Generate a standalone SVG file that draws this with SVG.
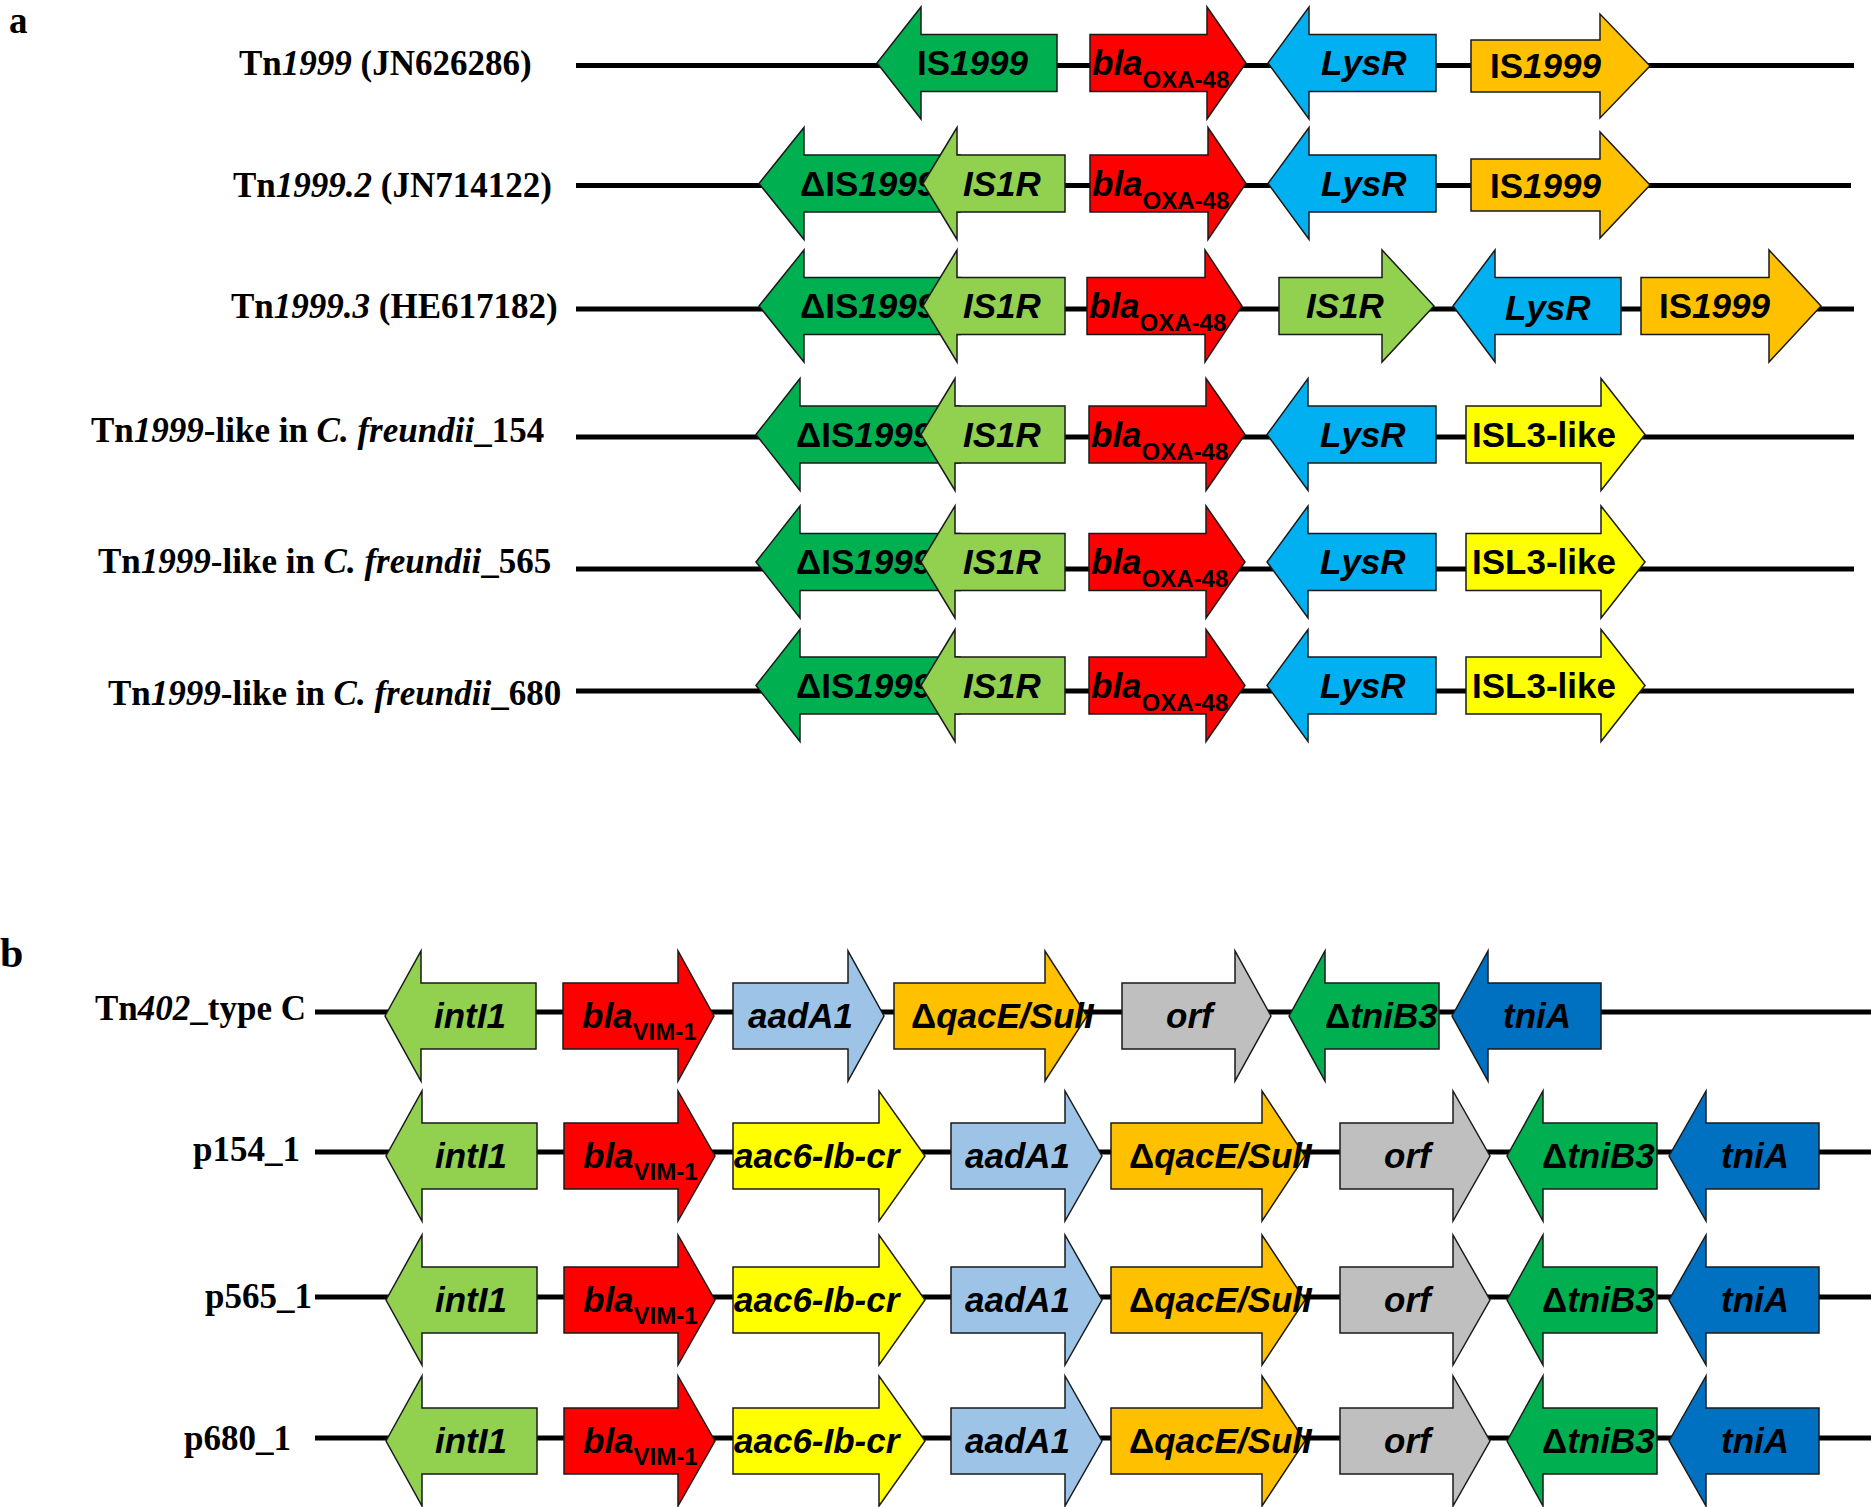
<svg xmlns="http://www.w3.org/2000/svg" width="1871" height="1507" viewBox="0 0 1871 1507">
<style>
.ln{stroke:#000;stroke-width:5;fill:none}
.g{stroke:#1a1a1a;stroke-width:1.5;stroke-linejoin:miter}
.dg{fill:#00B050}.lg{fill:#92D050}.rd{fill:#FF0000}.sb{fill:#00B0F0}.or{fill:#FFC000}.ye{fill:#FFFF00}.lb{fill:#9DC3E6}.gy{fill:#BFBFBF}.db{fill:#0070C0}
.t{font-family:"Liberation Sans",Arial,sans-serif;font-weight:bold;font-size:35px;fill:#000}
.i{font-style:italic}
.sub{font-size:24px;font-style:normal}
.lab{font-family:"Liberation Serif","Times New Roman",serif;font-weight:bold;font-size:35px;fill:#000}
.pl{font-family:"Liberation Serif","Times New Roman",serif;font-weight:bold;font-size:42px;fill:#000}
</style>
<rect width="1871" height="1507" fill="#fff"/>
<text class="pl" x="9" y="33" style="font-size:37px">a</text>
<text class="pl" x="0" y="967">b</text>

<g id="labels">
<text class="lab" x="239" y="75">Tn<tspan class="i">1999</tspan> (JN626286)</text>
<text class="lab" x="233" y="197">Tn<tspan class="i">1999.2</tspan> (JN714122)</text>
<text class="lab" x="231" y="318">Tn<tspan class="i">1999.3</tspan> (HE617182)</text>
<text class="lab" x="91" y="442">Tn<tspan class="i">1999</tspan>-like in <tspan class="i">C. freundii</tspan>_154</text>
<text class="lab" x="98" y="573">Tn<tspan class="i">1999</tspan>-like in <tspan class="i">C. freundii</tspan>_565</text>
<text class="lab" x="108" y="705">Tn<tspan class="i">1999</tspan>-like in <tspan class="i">C. freundii</tspan>_680</text>
<text class="lab" x="95" y="1020">Tn<tspan class="i">402</tspan>_type C</text>
<text class="lab" x="193" y="1161">p154_1</text>
<text class="lab" x="205" y="1308">p565_1</text>
<text class="lab" x="184" y="1450">p680_1</text>
</g>

<g id="connectors">
<line class="ln" x1="576" y1="65.5" x2="1854" y2="65.5"/>
<line class="ln" x1="576" y1="185.5" x2="1851" y2="185.5"/>
<line class="ln" x1="576" y1="309" x2="1854" y2="309"/>
<line class="ln" x1="576" y1="437" x2="1854" y2="437"/>
<line class="ln" x1="576" y1="569" x2="1854" y2="569"/>
<line class="ln" x1="576" y1="691" x2="1854" y2="691"/>
<line class="ln" x1="315" y1="1012" x2="1871" y2="1012"/>
<line class="ln" x1="315" y1="1152" x2="1871" y2="1152"/>
<line class="ln" x1="315" y1="1297" x2="1871" y2="1297"/>
<line class="ln" x1="315" y1="1438" x2="1871" y2="1438"/>
</g>

<!-- Row a1 -->
<g id="a1" transform="translate(0,63)">
<g id="a1-IS1999L"><polygon class="g dg" points="877,0 921,-56 921,-28.5 1057,-28.5 1057,28.5 921,28.5 921,56"/><text class="t" x="917" y="12">IS<tspan class="i">1999</tspan></text></g>
<g id="a1-bla"><polygon class="g rd" points="1090,-28.5 1207,-28.5 1207,-56 1246,0 1207,56 1207,28.5 1090,28.5"/><text class="t" x="1092" y="12"><tspan class="i">bla</tspan><tspan class="sub" dy="13">OXA-48</tspan></text></g>
<g id="a1-LysR"><polygon class="g sb" points="1268,0 1309,-56 1309,-28.5 1436,-28.5 1436,28.5 1309,28.5 1309,56"/><text class="t i" x="1321" y="12">LysR</text></g>
<g id="a1-IS1999R"><polygon class="g or" points="1471,-23 1600,-23 1600,-49 1650,3 1600,55 1600,29 1471,29"/><text class="t" x="1490" y="15">IS<tspan class="i">1999</tspan></text></g>
</g>

<!-- Row a2 -->
<g id="a2" transform="translate(0,183.5)">
<g id="a2-dIS1999"><polygon class="g dg" points="759,0 804,-56 804,-28.5 960,-28.5 960,28.5 804,28.5 804,56"/><text class="t" x="800" y="12">ΔIS<tspan class="i">1999</tspan></text></g>
<g id="a2-IS1R"><polygon class="g lg" points="923,0 957,-56 957,-28.5 1065,-28.5 1065,28.5 957,28.5 957,56"/><text class="t i" x="963" y="12">IS1R</text></g>
<g id="a2-bla"><polygon class="g rd" points="1090,-28.5 1208,-28.5 1208,-56 1246,0 1208,56 1208,28.5 1090,28.5"/><text class="t" x="1092" y="12"><tspan class="i">bla</tspan><tspan class="sub" dy="13">OXA-48</tspan></text></g>
<g id="a2-LysR"><polygon class="g sb" points="1268,0 1309,-56 1309,-28.5 1436,-28.5 1436,28.5 1309,28.5 1309,56"/><text class="t i" x="1321" y="12">LysR</text></g>
<g id="a2-IS1999R"><polygon class="g or" points="1471,-24.5 1600,-24.5 1600,-51.5 1650,1.5 1600,54.5 1600,27.5 1471,27.5"/><text class="t" x="1490" y="14">IS<tspan class="i">1999</tspan></text></g>
</g>

<!-- Row a3 -->
<g id="a3" transform="translate(0,306)">
<g id="a3-dIS1999"><polygon class="g dg" points="759,0 804,-56 804,-28.5 960,-28.5 960,28.5 804,28.5 804,56"/><text class="t" x="800" y="12">ΔIS<tspan class="i">1999</tspan></text></g>
<g id="a3-IS1R"><polygon class="g lg" points="923,0 957,-56 957,-28.5 1065,-28.5 1065,28.5 957,28.5 957,56"/><text class="t i" x="963" y="12">IS1R</text></g>
<g id="a3-bla"><polygon class="g rd" points="1087,-28.5 1205,-28.5 1205,-56 1242,0 1205,56 1205,28.5 1087,28.5"/><text class="t" x="1089" y="12"><tspan class="i">bla</tspan><tspan class="sub" dy="13">OXA-48</tspan></text></g>
<g id="a3-IS1R-2"><polygon class="g lg" points="1279,-28.5 1382,-28.5 1382,-56 1434,0 1382,56 1382,28.5 1279,28.5" stroke-width="2.5"/><text class="t i" x="1306" y="12">IS1R</text></g>
<g id="a3-LysR"><polygon class="g sb" points="1453,0 1495,-56 1495,-28.5 1621,-28.5 1621,28.5 1495,28.5 1495,56"/><text class="t i" x="1505" y="14">LysR</text></g>
<g id="a3-IS1999R"><polygon class="g or" points="1641,-28.5 1769,-28.5 1769,-56 1821,0 1769,56 1769,28.5 1641,28.5"/><text class="t" x="1659" y="12">IS<tspan class="i">1999</tspan></text></g>
</g>

<!-- Row a4 -->
<g id="a4" transform="translate(0,434.5)">
<g id="a4-dIS1999"><polygon class="g dg" points="756,0 800,-56 800,-28.5 960,-28.5 960,28.5 800,28.5 800,56"/><text class="t" x="796" y="12">ΔIS<tspan class="i">1999</tspan></text></g>
<g id="a4-IS1R"><polygon class="g lg" points="921,0 955,-56 955,-28.5 1065,-28.5 1065,28.5 955,28.5 955,56"/><text class="t i" x="963" y="12">IS1R</text></g>
<g id="a4-bla"><polygon class="g rd" points="1089,-28.5 1206,-28.5 1206,-56 1245,0 1206,56 1206,28.5 1089,28.5"/><text class="t" x="1091" y="12"><tspan class="i">bla</tspan><tspan class="sub" dy="13">OXA-48</tspan></text></g>
<g id="a4-LysR"><polygon class="g sb" points="1267,0 1308,-56 1308,-28.5 1436,-28.5 1436,28.5 1308,28.5 1308,56"/><text class="t i" x="1320" y="12">LysR</text></g>
<g id="a4-ISL3"><polygon class="g ye" points="1466,-28.5 1601,-28.5 1601,-56 1645,0 1601,56 1601,28.5 1466,28.5"/><text class="t" x="1472" y="12">ISL3-like</text></g>
</g>

<!-- Row a5 -->
<g id="a5" transform="translate(0,562)">
<g id="a5-dIS1999"><polygon class="g dg" points="756,0 800,-56 800,-28.5 960,-28.5 960,28.5 800,28.5 800,56"/><text class="t" x="796" y="12">ΔIS<tspan class="i">1999</tspan></text></g>
<g id="a5-IS1R"><polygon class="g lg" points="921,0 955,-56 955,-28.5 1065,-28.5 1065,28.5 955,28.5 955,56"/><text class="t i" x="963" y="12">IS1R</text></g>
<g id="a5-bla"><polygon class="g rd" points="1089,-28.5 1206,-28.5 1206,-56 1245,0 1206,56 1206,28.5 1089,28.5"/><text class="t" x="1091" y="12"><tspan class="i">bla</tspan><tspan class="sub" dy="13">OXA-48</tspan></text></g>
<g id="a5-LysR"><polygon class="g sb" points="1267,0 1308,-56 1308,-28.5 1436,-28.5 1436,28.5 1308,28.5 1308,56"/><text class="t i" x="1320" y="12">LysR</text></g>
<g id="a5-ISL3"><polygon class="g ye" points="1466,-28.5 1601,-28.5 1601,-56 1645,0 1601,56 1601,28.5 1466,28.5"/><text class="t" x="1472" y="12">ISL3-like</text></g>
</g>

<!-- Row a6 -->
<g id="a6" transform="translate(0,685.5)">
<g id="a6-dIS1999"><polygon class="g dg" points="756,0 800,-56 800,-28.5 960,-28.5 960,28.5 800,28.5 800,56"/><text class="t" x="796" y="12">ΔIS<tspan class="i">1999</tspan></text></g>
<g id="a6-IS1R"><polygon class="g lg" points="921,0 955,-56 955,-28.5 1065,-28.5 1065,28.5 955,28.5 955,56"/><text class="t i" x="963" y="12">IS1R</text></g>
<g id="a6-bla"><polygon class="g rd" points="1089,-28.5 1206,-28.5 1206,-56 1245,0 1206,56 1206,28.5 1089,28.5"/><text class="t" x="1091" y="12"><tspan class="i">bla</tspan><tspan class="sub" dy="13">OXA-48</tspan></text></g>
<g id="a6-LysR"><polygon class="g sb" points="1267,0 1308,-56 1308,-28.5 1436,-28.5 1436,28.5 1308,28.5 1308,56"/><text class="t i" x="1320" y="12">LysR</text></g>
<g id="a6-ISL3"><polygon class="g ye" points="1466,-28.5 1601,-28.5 1601,-56 1645,0 1601,56 1601,28.5 1466,28.5"/><text class="t" x="1472" y="12">ISL3-like</text></g>
</g>

<!-- Row b1 -->
<g id="b1" transform="translate(0,1016)">
<g id="b1-intI1"><polygon class="g lg" points="385,0 421,-65 421,-33 536,-33 536,33 421,33 421,65"/><text class="t i" x="434" y="12">intI1</text></g>
<g id="b1-bla"><polygon class="g rd" points="563,-33 678,-33 678,-65 714,0 678,65 678,33 563,33"/><text class="t" x="582" y="12"><tspan class="i">bla</tspan><tspan class="sub" dy="12">VIM-1</tspan></text></g>
<g id="b1-aadA1"><polygon class="g lb" points="733,-33 848,-33 848,-65 884,0 848,65 848,33 733,33"/><text class="t i" x="748" y="12">aadA1</text></g>
<g id="b1-qacE"><polygon class="g or" points="894,-33 1045,-33 1045,-65 1087,0 1045,65 1045,33 894,33"/><text class="t" x="911" y="12">Δ<tspan class="i">qacE/SulI</tspan></text></g>
<g id="b1-orf"><polygon class="g gy" points="1122,-33 1235,-33 1235,-65 1271,0 1235,65 1235,33 1122,33"/><text class="t i" x="1166" y="12">orf</text></g>
<g id="b1-tniB3"><polygon class="g dg" points="1289,0 1325,-65 1325,-33 1439,-33 1439,33 1325,33 1325,65"/><text class="t" x="1325" y="12">Δ<tspan class="i">tniB3</tspan></text></g>
<g id="b1-tniA"><polygon class="g db" points="1452,0 1488,-65 1488,-33 1601,-33 1601,33 1488,33 1488,65"/><text class="t i" x="1503" y="12">tniA</text></g>
</g>

<!-- Row b2 -->
<g id="b2" transform="translate(0,1156)">
<g id="b2-intI1"><polygon class="g lg" points="386,0 422,-65 422,-33 537,-33 537,33 422,33 422,65"/><text class="t i" x="435" y="12">intI1</text></g>
<g id="b2-bla"><polygon class="g rd" points="564,-33 678,-33 678,-65 715,0 678,65 678,33 564,33"/><text class="t" x="583" y="12"><tspan class="i">bla</tspan><tspan class="sub" dy="12">VIM-1</tspan></text></g>
<g id="b2-aac6"><polygon class="g ye" points="733,-33 879,-33 879,-65 925,0 879,65 879,33 733,33"/><text class="t i" x="734" y="12">aac6-Ib-cr</text></g>
<g id="b2-aadA1"><polygon class="g lb" points="951,-33 1065,-33 1065,-65 1102,0 1065,65 1065,33 951,33"/><text class="t i" x="965" y="12">aadA1</text></g>
<g id="b2-qacE"><polygon class="g or" points="1111,-33 1262,-33 1262,-65 1305,0 1262,65 1262,33 1111,33"/><text class="t" x="1129" y="12">Δ<tspan class="i">qacE/SulI</tspan></text></g>
<g id="b2-orf"><polygon class="g gy" points="1340,-33 1453,-33 1453,-65 1490,0 1453,65 1453,33 1340,33"/><text class="t i" x="1384" y="12">orf</text></g>
<g id="b2-tniB3"><polygon class="g dg" points="1507,0 1543,-65 1543,-33 1657,-33 1657,33 1543,33 1543,65"/><text class="t" x="1542" y="12">Δ<tspan class="i">tniB3</tspan></text></g>
<g id="b2-tniA"><polygon class="g db" points="1669,0 1706,-65 1706,-33 1819,-33 1819,33 1706,33 1706,65"/><text class="t i" x="1721" y="12">tniA</text></g>
</g>

<!-- Row b3 -->
<g id="b3" transform="translate(0,1300)">
<g id="b3-intI1"><polygon class="g lg" points="386,0 422,-65 422,-33 537,-33 537,33 422,33 422,65"/><text class="t i" x="435" y="12">intI1</text></g>
<g id="b3-bla"><polygon class="g rd" points="564,-33 678,-33 678,-65 715,0 678,65 678,33 564,33"/><text class="t" x="583" y="12"><tspan class="i">bla</tspan><tspan class="sub" dy="12">VIM-1</tspan></text></g>
<g id="b3-aac6"><polygon class="g ye" points="733,-33 879,-33 879,-65 925,0 879,65 879,33 733,33"/><text class="t i" x="734" y="12">aac6-Ib-cr</text></g>
<g id="b3-aadA1"><polygon class="g lb" points="951,-33 1065,-33 1065,-65 1102,0 1065,65 1065,33 951,33"/><text class="t i" x="965" y="12">aadA1</text></g>
<g id="b3-qacE"><polygon class="g or" points="1111,-33 1262,-33 1262,-65 1305,0 1262,65 1262,33 1111,33"/><text class="t" x="1129" y="12">Δ<tspan class="i">qacE/SulI</tspan></text></g>
<g id="b3-orf"><polygon class="g gy" points="1340,-33 1453,-33 1453,-65 1490,0 1453,65 1453,33 1340,33"/><text class="t i" x="1384" y="12">orf</text></g>
<g id="b3-tniB3"><polygon class="g dg" points="1507,0 1543,-65 1543,-33 1657,-33 1657,33 1543,33 1543,65"/><text class="t" x="1542" y="12">Δ<tspan class="i">tniB3</tspan></text></g>
<g id="b3-tniA"><polygon class="g db" points="1669,0 1706,-65 1706,-33 1819,-33 1819,33 1706,33 1706,65"/><text class="t i" x="1721" y="12">tniA</text></g>
</g>

<!-- Row b4 -->
<g id="b4" transform="translate(0,1441)">
<g id="b4-intI1"><polygon class="g lg" points="386,0 422,-65 422,-33 537,-33 537,33 422,33 422,65"/><text class="t i" x="435" y="12">intI1</text></g>
<g id="b4-bla"><polygon class="g rd" points="564,-33 678,-33 678,-65 715,0 678,65 678,33 564,33"/><text class="t" x="583" y="12"><tspan class="i">bla</tspan><tspan class="sub" dy="12">VIM-1</tspan></text></g>
<g id="b4-aac6"><polygon class="g ye" points="733,-33 879,-33 879,-65 925,0 879,65 879,33 733,33"/><text class="t i" x="734" y="12">aac6-Ib-cr</text></g>
<g id="b4-aadA1"><polygon class="g lb" points="951,-33 1065,-33 1065,-65 1102,0 1065,65 1065,33 951,33"/><text class="t i" x="965" y="12">aadA1</text></g>
<g id="b4-qacE"><polygon class="g or" points="1111,-33 1262,-33 1262,-65 1305,0 1262,65 1262,33 1111,33"/><text class="t" x="1129" y="12">Δ<tspan class="i">qacE/SulI</tspan></text></g>
<g id="b4-orf"><polygon class="g gy" points="1340,-33 1453,-33 1453,-65 1490,0 1453,65 1453,33 1340,33"/><text class="t i" x="1384" y="12">orf</text></g>
<g id="b4-tniB3"><polygon class="g dg" points="1507,0 1543,-65 1543,-33 1657,-33 1657,33 1543,33 1543,65"/><text class="t" x="1542" y="12">Δ<tspan class="i">tniB3</tspan></text></g>
<g id="b4-tniA"><polygon class="g db" points="1669,0 1706,-65 1706,-33 1819,-33 1819,33 1706,33 1706,65"/><text class="t i" x="1721" y="12">tniA</text></g>
</g>
</svg>
